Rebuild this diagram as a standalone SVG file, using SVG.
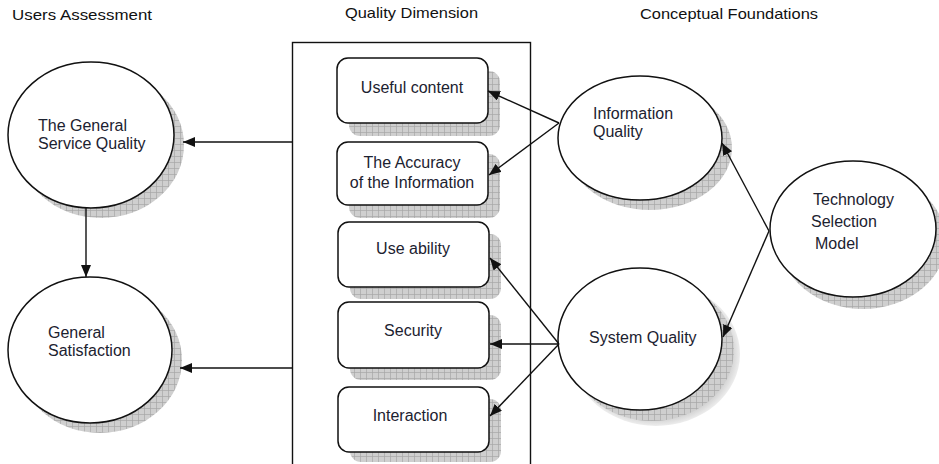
<svg xmlns="http://www.w3.org/2000/svg" width="939" height="464" viewBox="0 0 939 464">
<style>
.t{font-family:"Liberation Sans",Arial,sans-serif;font-size:16px;fill:#1c2230}
.h{font-family:"Liberation Sans",Arial,sans-serif;font-size:15px;fill:#111}
.n{fill:#fff;stroke:#111;stroke-width:1.5}
.sh{fill:url(#grid)}
.c{stroke:#111;stroke-width:1.4;fill:none;marker-end:url(#arr)}
</style>
<defs>
<pattern id="grid" width="6" height="6" patternUnits="userSpaceOnUse">
<rect width="6" height="6" fill="#cfcfcf"/>
<path d="M0 0.5H6M0.5 0V6" stroke="#a6a6a6" stroke-width="0.7"/>
</pattern>
<radialGradient id="soft" cx="0.5" cy="0.5" r="0.5">
<stop offset="0.85" stop-color="#c4c4c4"/>
<stop offset="1" stop-color="#c4c4c4" stop-opacity="0.3"/>
</radialGradient>
<marker id="arr" markerWidth="12" markerHeight="10" refX="12" refY="5" orient="auto" markerUnits="userSpaceOnUse">
<path d="M0 0L12 5L0 10z" fill="#111"/>
</marker>
</defs>
<rect width="939" height="464" fill="#fff"/>
<g id="headers">
<text class="h" x="12" y="20" textLength="140" lengthAdjust="spacingAndGlyphs">Users Assessment</text>
<text class="h" x="345" y="18" textLength="133" lengthAdjust="spacingAndGlyphs">Quality Dimension</text>
<text class="h" x="640" y="19" textLength="178" lengthAdjust="spacingAndGlyphs">Conceptual Foundations</text>
</g>
<g id="frame"><rect x="292.5" y="42.5" width="238" height="430" fill="none" stroke="#111" stroke-width="1.4"/></g>
<g id="general-service-quality">
<ellipse class="sh" cx="101" cy="145" rx="83" ry="73"/>
<ellipse class="n" cx="91" cy="135" rx="83" ry="73"/>
<text class="t" x="38" y="131">The General</text>
<text class="t" x="38" y="149">Service Quality</text>
</g>
<g id="general-satisfaction">
<ellipse class="sh" cx="100" cy="360" rx="82" ry="73"/>
<ellipse class="n" cx="90" cy="350" rx="82" ry="73"/>
<text class="t" x="48" y="338">General</text>
<text class="t" x="48" y="356">Satisfaction</text>
</g>
<g id="useful-content">
<rect class="sh" x="349" y="71" width="151" height="65" rx="11"/>
<rect class="n" x="337" y="58" width="151" height="65" rx="11"/>
<text class="t" x="412" y="93" text-anchor="middle">Useful content</text>
</g>
<g id="accuracy">
<rect class="sh" x="349" y="154" width="151" height="64" rx="11"/>
<rect class="n" x="337" y="142" width="151" height="63" rx="11"/>
<text class="t" x="412" y="168" text-anchor="middle">The Accuracy</text>
<text class="t" x="412" y="188" text-anchor="middle">of the Information</text>
</g>
<g id="use-ability">
<rect class="sh" x="350" y="234" width="151" height="65" rx="11"/>
<rect class="n" x="338" y="222" width="151" height="65" rx="11"/>
<text class="t" x="413" y="254" text-anchor="middle">Use ability</text>
</g>
<g id="security">
<rect class="sh" x="350" y="315" width="151" height="65" rx="11"/>
<rect class="n" x="338" y="302" width="151" height="66" rx="11"/>
<text class="t" x="413" y="336" text-anchor="middle">Security</text>
</g>
<g id="interaction">
<rect class="sh" x="350" y="399" width="151" height="63" rx="11"/>
<rect class="n" x="338" y="387" width="151" height="65" rx="11"/>
<text class="t" x="410" y="421" text-anchor="middle">Interaction</text>
</g>
<g id="information-quality">
<ellipse class="sh" cx="650" cy="148" rx="82" ry="62"/>
<ellipse class="n" cx="640" cy="138" rx="82" ry="62"/>
<text class="t" x="593" y="119">Information</text>
<text class="t" x="593" y="137">Quality</text>
</g>
<g id="system-quality">
<ellipse cx="656" cy="354" rx="84" ry="72" fill="url(#soft)"/>
<ellipse class="sh" cx="652" cy="350" rx="82" ry="71"/>
<ellipse class="n" cx="640" cy="339" rx="82" ry="71"/>
<text class="t" x="589" y="343">System Quality</text>
</g>
<g id="technology-selection-model">
<ellipse class="sh" cx="863" cy="241" rx="83" ry="68"/>
<ellipse class="n" cx="853" cy="229" rx="83" ry="68"/>
<text class="t" x="813" y="205">Technology</text>
<text class="t" x="811" y="227">Selection</text>
<text class="t" x="815" y="249">Model</text>
</g>
<g id="connectors">
<path class="c" d="M292 142H183"/>
<path class="c" d="M292 368H180"/>
<path class="c" d="M86 208V277"/>
<path class="c" d="M559 123L488 91"/>
<path class="c" d="M559 123L489 175"/>
<path class="c" d="M559 344L490 258"/>
<path class="c" d="M559 344H490"/>
<path class="c" d="M559 344L490 416"/>
<path class="c" d="M769 231L722 143"/>
<path class="c" d="M769 231L723 337"/>
</g>
</svg>
